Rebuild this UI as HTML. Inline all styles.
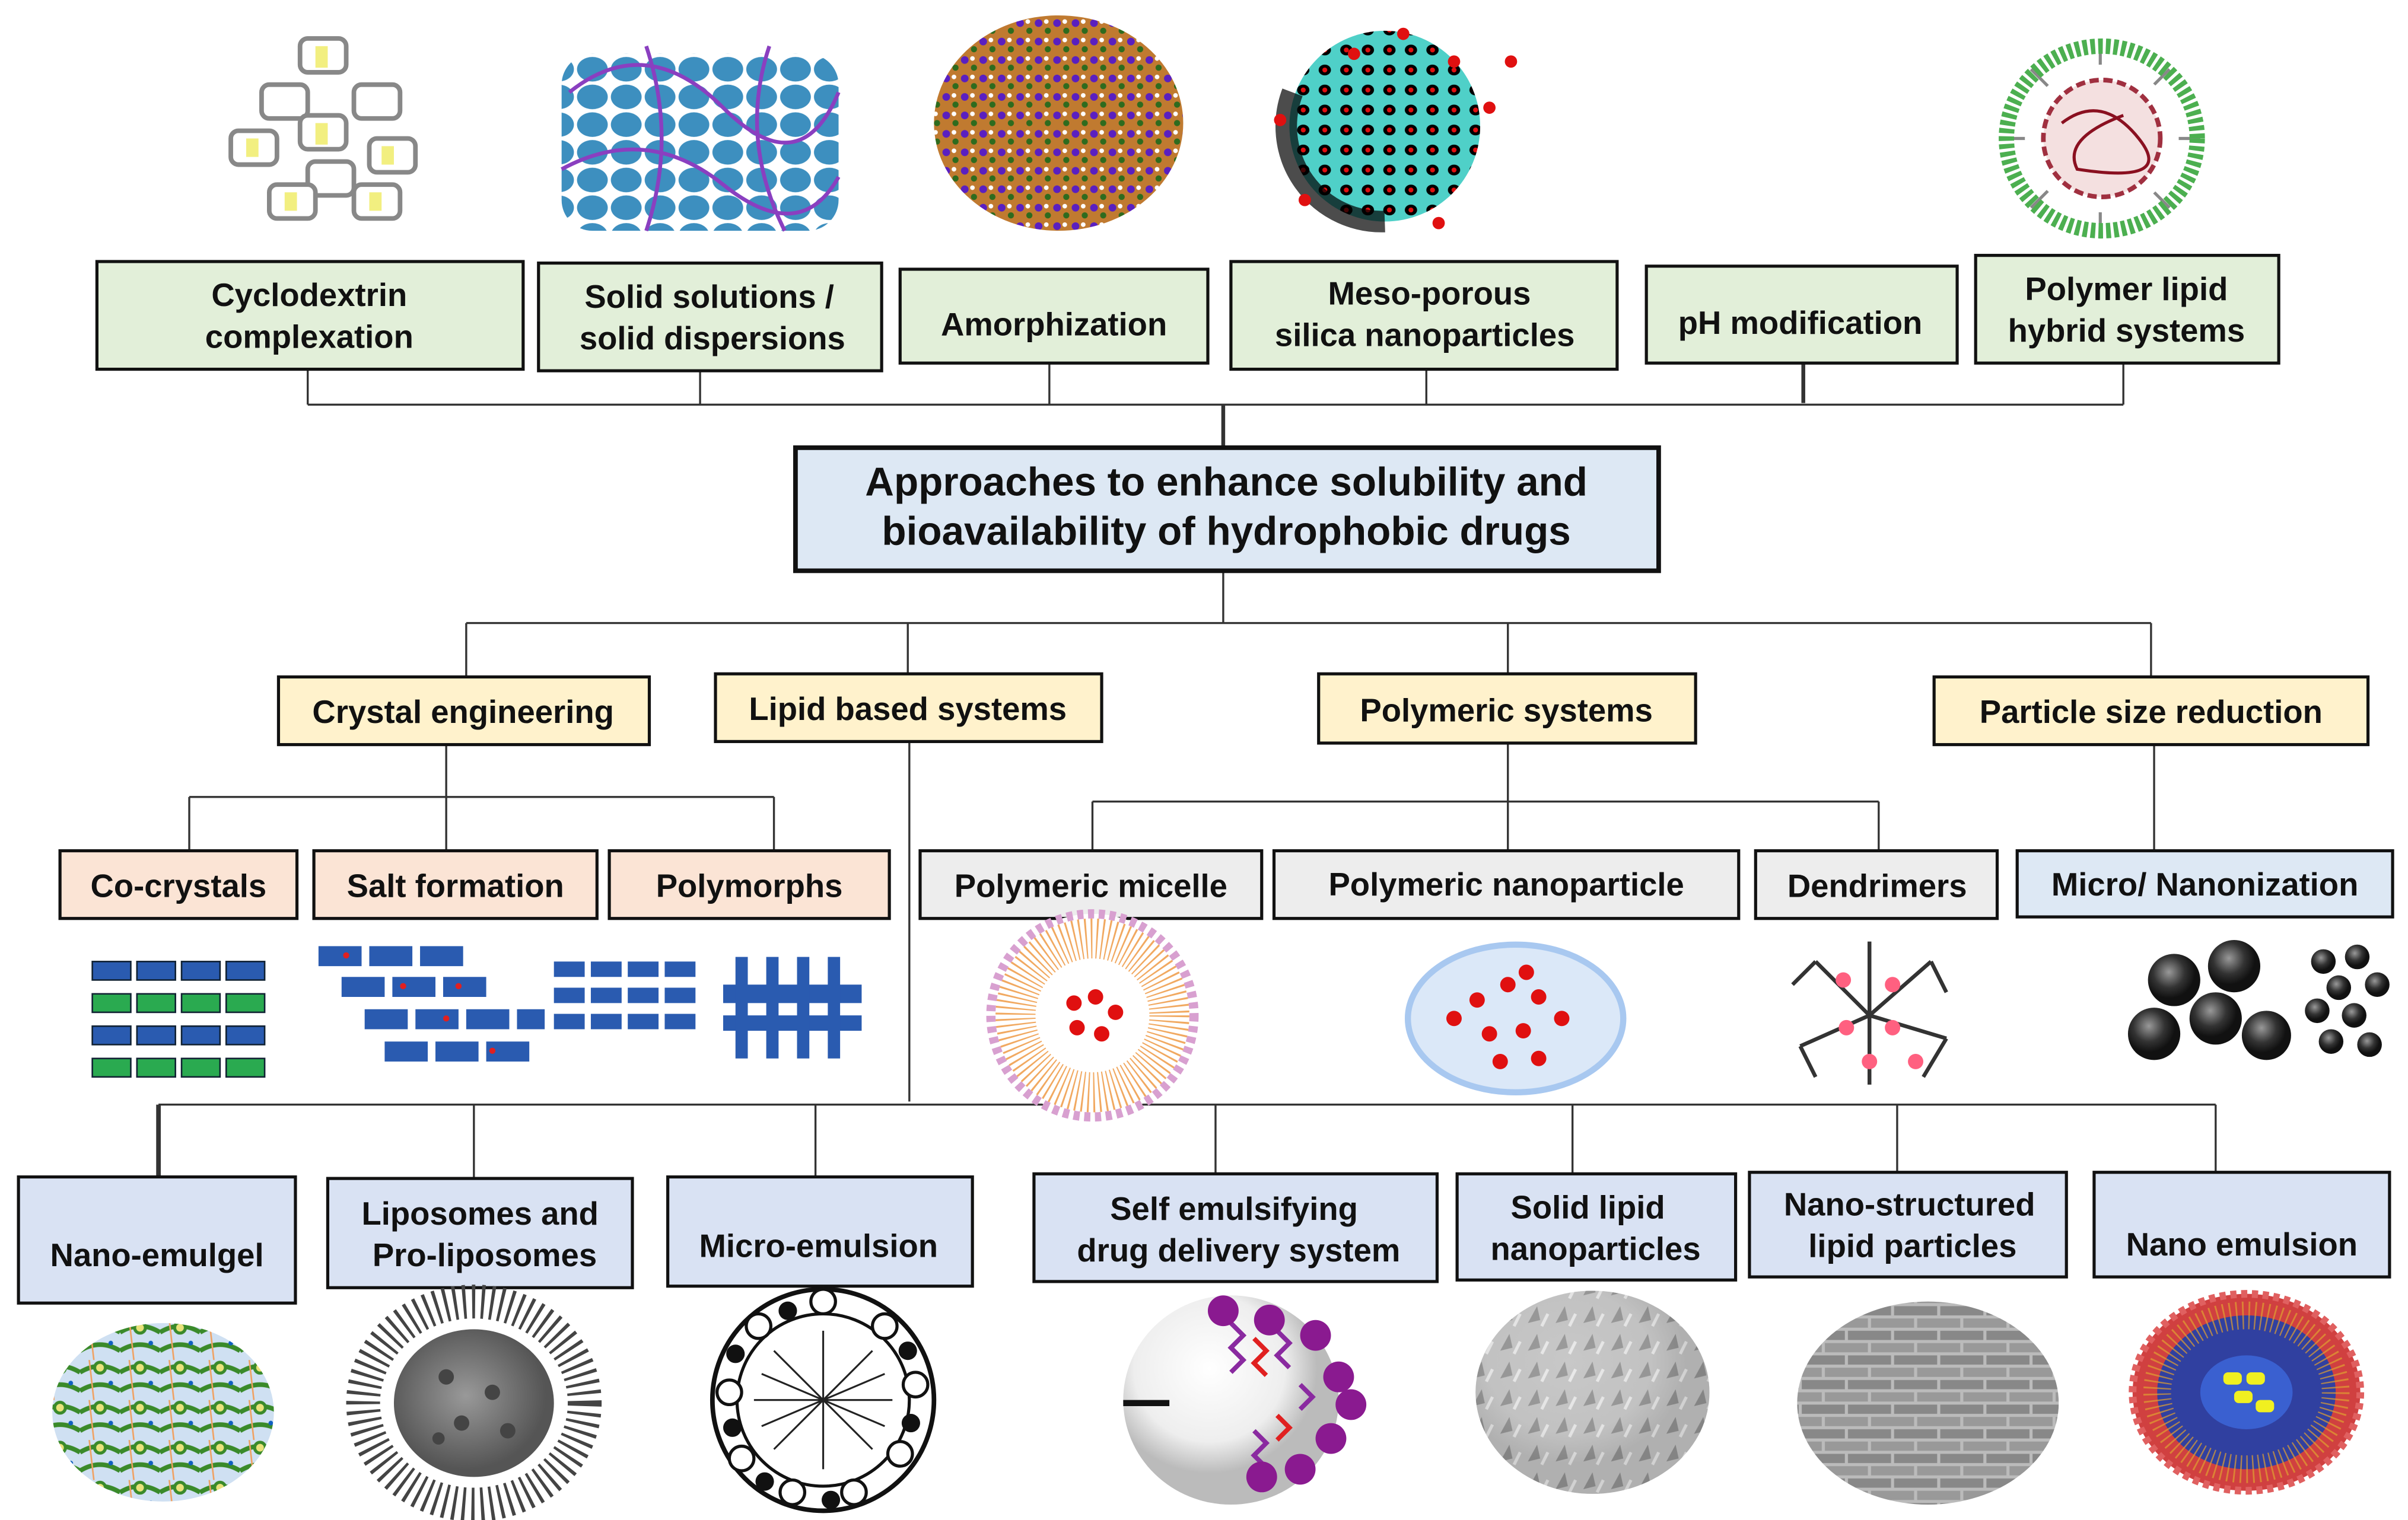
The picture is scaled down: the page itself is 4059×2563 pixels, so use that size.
<!DOCTYPE html>
<html><head><meta charset="utf-8"><style>
html,body{margin:0;padding:0;background:#fff;}
svg{display:block;}
text{font-family:"Liberation Sans",Arial,sans-serif;font-weight:bold;fill:#111;text-anchor:middle;}
</style></head><body>
<svg width="4059" height="2563" viewBox="0 0 1565 988" preserveAspectRatio="none" xmlns="http://www.w3.org/2000/svg">
<defs>
<pattern id="blue" width="22" height="18" patternUnits="userSpaceOnUse"><ellipse cx="11" cy="9" rx="10" ry="8" fill="#3d8fbf"/></pattern>
<pattern id="amor" width="12" height="12" patternUnits="userSpaceOnUse"><rect width="12" height="12" fill="#c07a30"/><circle cx="3" cy="3" r="2.5" fill="#5a1fc0"/><circle cx="9" cy="8" r="2" fill="#2e6b1e"/><circle cx="8" cy="2" r="1.5" fill="#fff"/></pattern>
<pattern id="meso" width="14" height="13" patternUnits="userSpaceOnUse"><rect width="14" height="13" fill="#4fd0c8"/><ellipse cx="7" cy="6.5" rx="4" ry="3.5" fill="#000"/><circle cx="7" cy="6.5" r="1.6" fill="#e01010"/></pattern>
<pattern id="gel" width="26" height="26" patternUnits="userSpaceOnUse"><rect width="26" height="26" fill="#cfe0f2"/><path d="M0 8 Q13 0 26 8 M0 20 Q13 12 26 20" stroke="#3a8a2a" stroke-width="3" fill="none"/><circle cx="13" cy="5" r="3.5" fill="#e9e27a" stroke="#3a8a2a" stroke-width="2"/><line x1="6" y1="0" x2="9" y2="26" stroke="#f0a060" stroke-width="1"/><circle cx="20" cy="15" r="1.5" fill="#1060c0"/></pattern>
<pattern id="brick" width="30" height="16" patternUnits="userSpaceOnUse"><rect width="30" height="16" fill="#bbb"/><rect x="1" y="1" width="28" height="6" fill="#888"/><rect x="-14" y="9" width="28" height="6" fill="#999"/><rect x="16" y="9" width="28" height="6" fill="#999"/></pattern>
<pattern id="slnp" width="18" height="18" patternUnits="userSpaceOnUse"><rect width="18" height="18" fill="#aaa"/><path d="M3 14 L9 3 L11 12Z" fill="#666"/><path d="M12 16 L16 8" stroke="#ddd" stroke-width="2"/></pattern>
<radialGradient id="gsphere" cx="40%" cy="35%"><stop offset="0" stop-color="#999"/><stop offset="0.6" stop-color="#333"/><stop offset="1" stop-color="#111"/></radialGradient>
<radialGradient id="white" cx="40%" cy="35%"><stop offset="0" stop-color="#fff"/><stop offset="0.7" stop-color="#eee"/><stop offset="1" stop-color="#bbb"/></radialGradient>
<radialGradient id="gray" cx="45%" cy="45%"><stop offset="0" stop-color="#999"/><stop offset="1" stop-color="#555"/></radialGradient>
</defs>

<g stroke="#888" stroke-width="3" fill="#fff">
<rect x="195" y="25" width="30" height="22" rx="5"/><rect x="170" y="55" width="30" height="22" rx="5"/><rect x="230" y="55" width="30" height="22" rx="5"/>
<rect x="195" y="75" width="30" height="22" rx="5"/><rect x="150" y="85" width="30" height="22" rx="5"/><rect x="240" y="90" width="30" height="22" rx="5"/>
<rect x="200" y="105" width="30" height="22" rx="5"/><rect x="175" y="120" width="30" height="22" rx="5"/><rect x="230" y="120" width="30" height="22" rx="5"/>
</g>
<g fill="#f2ef80"><rect x="205" y="30" width="8" height="14"/><rect x="205" y="80" width="8" height="14"/><rect x="160" y="90" width="8" height="12"/><rect x="248" y="95" width="8" height="12"/><rect x="185" y="125" width="8" height="12"/><rect x="240" y="125" width="8" height="12"/></g>
<rect x="365" y="35" width="180" height="115" rx="20" fill="url(#blue)"/>
<path d="M370 60 Q420 20 470 70 T545 60 M365 110 Q420 80 470 120 T545 115 M420 30 Q440 90 420 150 M500 30 Q480 90 510 150" stroke="#8a3fc0" stroke-width="2.5" fill="none"/>
<ellipse cx="688" cy="80" rx="81" ry="70" fill="url(#amor)"/>
<circle cx="900" cy="82" r="62" fill="url(#meso)"/>
<path d="M840 60 A62 62 0 0 0 900 144" stroke="#000" stroke-width="14" fill="none" opacity="0.7"/>
<g fill="#e01010"><circle cx="912" cy="22" r="4"/><circle cx="945" cy="40" r="4"/><circle cx="982" cy="40" r="4"/><circle cx="968" cy="70" r="4"/><circle cx="832" cy="78" r="4"/><circle cx="848" cy="130" r="4"/><circle cx="935" cy="145" r="4"/><circle cx="880" cy="35" r="4"/></g>
<g stroke="#888" stroke-width="2"><path d="M1365 28 V155 M1302 90 H1430 M1320 45 L1410 135 M1410 45 L1320 135"/></g>
<ellipse cx="1366" cy="90" rx="62" ry="60" fill="none" stroke="#4caf50" stroke-width="10" stroke-dasharray="3 2"/>
<ellipse cx="1366" cy="90" rx="50" ry="48" fill="#fff"/>
<ellipse cx="1366" cy="90" rx="38" ry="38" fill="#f4e0e0" stroke="#a03040" stroke-width="3" stroke-dasharray="6 3"/>
<path d="M1340 80 Q1366 60 1390 90 T1350 110 Q1340 90 1380 75" stroke="#8a1020" stroke-width="2" fill="none"/>

<g stroke="#333" stroke-width="1.3" fill="none">
<path d="M200 240 V263 M455 241 V263 M682 236 V263 M927 240 V263 M1380 236 V263 M200 263 H1380"/>
<path d="M1172 236 V262" stroke-width="2.5"/>
<path d="M795 263 V290" stroke-width="2.5"/>
<path d="M795 371 V405 M303 405 H1398 M303 405 V440 M590 405 V438 M980 405 V438 M1398 405 V440"/>
<path d="M290 484 V518 M123 518 H503 M123 518 V553 M290 518 V553 M503 518 V553"/>
<path d="M980 483 V521 M710 521 H1221 M710 521 V553 M980 521 V553 M1221 521 V553"/>
<path d="M1400 484 V553"/>
<path d="M591 482 V716 M103 718 H1440 M308 718 V766 M530 718 V765 M790 718 V763 M1022 718 V763 M1233 718 V762 M1440 718 V762"/>
<path d="M103 718 V765" stroke-width="3"/>
</g>

<g stroke="#111" stroke-width="2">
<g fill="#e2efd9">
<rect x="63" y="170" width="277" height="70"/><rect x="350" y="171" width="223" height="70"/><rect x="585" y="175" width="200" height="61"/>
<rect x="800" y="170" width="251" height="70"/><rect x="1070" y="173" width="202" height="63"/><rect x="1284" y="166" width="197" height="70"/>
</g>
<rect x="517" y="291" width="561" height="80" fill="#dde8f4" stroke-width="3"/>
<g fill="#fff2cc">
<rect x="181" y="440" width="241" height="44"/><rect x="465" y="438" width="251" height="44"/><rect x="857" y="438" width="245" height="45"/><rect x="1257" y="440" width="282" height="44"/>
</g>
<g fill="#fbe4d5"><rect x="39" y="553" width="154" height="44"/><rect x="204" y="553" width="184" height="44"/><rect x="396" y="553" width="182" height="44"/></g>
<g fill="#ededed"><rect x="598" y="553" width="222" height="44"/><rect x="828" y="553" width="302" height="44"/><rect x="1141" y="553" width="157" height="44"/></g>
<rect x="1311" y="553" width="244" height="43" fill="#dde8f4"/>
<g fill="#d9e2f3">
<rect x="12" y="765" width="180" height="82"/><rect x="213" y="766" width="198" height="71"/><rect x="434" y="765" width="198" height="71"/>
<rect x="672" y="763" width="262" height="70"/><rect x="947" y="763" width="181" height="69"/><rect x="1137" y="762" width="206" height="68"/><rect x="1361" y="762" width="192" height="68"/>
</g>
</g>

<g font-size="21">
<text x="201" y="199">Cyclodextrin</text><text x="201" y="226">complexation</text>
<text x="461" y="200">Solid solutions /</text><text x="463" y="227">solid dispersions</text>
<text x="685" y="218">Amorphization</text>
<text x="929" y="198">Meso-porous</text><text x="926" y="225">silica nanoparticles</text>
<text x="1170" y="217">pH modification</text>
<text x="1382" y="195">Polymer lipid</text><text x="1382" y="222">hybrid systems</text>
</g>
<g font-size="26"><text x="797" y="322">Approaches to enhance solubility  and</text><text x="797" y="354">bioavailability of hydrophobic  drugs</text></g>
<g font-size="21">
<text x="301" y="470">Crystal engineering</text><text x="590" y="468">Lipid based systems</text><text x="979" y="469">Polymeric  systems</text><text x="1398" y="470">Particle size reduction</text>
<text x="116" y="583">Co-crystals</text><text x="296" y="583">Salt formation</text><text x="487" y="583">Polymorphs</text>
<text x="709" y="583">Polymeric micelle</text><text x="979" y="582">Polymeric nanoparticle</text><text x="1220" y="583">Dendrimers</text><text x="1433" y="582">Micro/ Nanonization</text>
<text x="102" y="823">Nano-emulgel</text>
<text x="312" y="796">Liposomes and</text><text x="315" y="823">Pro-liposomes</text>
<text x="532" y="817">Micro-emulsion</text>
<text x="802" y="793">Self emulsifying</text><text x="805" y="820">drug delivery system</text>
<text x="1032" y="792">Solid lipid</text><text x="1037" y="819">nanoparticles</text>
<text x="1241" y="790">Nano-structured</text><text x="1243" y="817">lipid particles</text>
<text x="1457" y="816">Nano emulsion</text>
</g>

<g>
<g fill="#2a5bb0" stroke="#123" stroke-width="1"><rect x="60" y="625" width="25" height="12"/><rect x="89" y="625" width="25" height="12"/><rect x="118" y="625" width="25" height="12"/><rect x="147" y="625" width="25" height="12"/>
<rect x="60" y="667" width="25" height="12"/><rect x="89" y="667" width="25" height="12"/><rect x="118" y="667" width="25" height="12"/><rect x="147" y="667" width="25" height="12"/></g>
<g fill="#2aaa50" stroke="#123" stroke-width="1"><rect x="60" y="646" width="25" height="12"/><rect x="89" y="646" width="25" height="12"/><rect x="118" y="646" width="25" height="12"/><rect x="147" y="646" width="25" height="12"/>
<rect x="60" y="688" width="25" height="12"/><rect x="89" y="688" width="25" height="12"/><rect x="118" y="688" width="25" height="12"/><rect x="147" y="688" width="25" height="12"/></g>
<g fill="#2a5bb0"><rect x="207" y="615" width="28" height="13"/><rect x="240" y="615" width="28" height="13"/><rect x="273" y="615" width="28" height="13"/>
<rect x="222" y="635" width="28" height="13"/><rect x="255" y="635" width="28" height="13"/><rect x="288" y="635" width="28" height="13"/>
<rect x="237" y="656" width="28" height="13"/><rect x="270" y="656" width="28" height="13"/><rect x="303" y="656" width="28" height="13"/><rect x="336" y="656" width="18" height="13"/>
<rect x="250" y="677" width="28" height="13"/><rect x="283" y="677" width="28" height="13"/><rect x="316" y="677" width="28" height="13"/>
<rect x="360" y="625" width="20" height="10"/><rect x="384" y="625" width="20" height="10"/><rect x="408" y="625" width="20" height="10"/><rect x="432" y="625" width="20" height="10"/>
<rect x="360" y="642" width="20" height="10"/><rect x="384" y="642" width="20" height="10"/><rect x="408" y="642" width="20" height="10"/><rect x="432" y="642" width="20" height="10"/>
<rect x="360" y="659" width="20" height="10"/><rect x="384" y="659" width="20" height="10"/><rect x="408" y="659" width="20" height="10"/><rect x="432" y="659" width="20" height="10"/>
<rect x="470" y="640" width="90" height="12"/><rect x="470" y="660" width="90" height="10"/>
<rect x="478" y="622" width="8" height="66"/><rect x="498" y="622" width="8" height="66"/><rect x="518" y="622" width="8" height="66"/><rect x="538" y="622" width="8" height="66"/></g>
<g fill="#e02020"><circle cx="225" cy="621" r="2"/><circle cx="262" cy="641" r="2"/><circle cx="298" cy="641" r="2"/><circle cx="290" cy="662" r="2"/><circle cx="320" cy="683" r="2"/></g>
<circle cx="710" cy="660" r="66" fill="#fff" stroke="#d8a0d0" stroke-width="6" stroke-dasharray="4 3"/>
<circle cx="710" cy="660" r="50" fill="none" stroke="#f0a050" stroke-width="26" stroke-dasharray="1 2.5" opacity="0.9"/>
<circle cx="710" cy="660" r="30" fill="#fff"/>
<g fill="#e01010"><circle cx="698" cy="652" r="5"/><circle cx="712" cy="648" r="5"/><circle cx="725" cy="658" r="5"/><circle cx="700" cy="668" r="5"/><circle cx="716" cy="672" r="5"/></g>
<ellipse cx="985" cy="662" rx="70" ry="48" fill="#dbe8f8" stroke="#a8c8f0" stroke-width="4"/>
<g fill="#e01010"><circle cx="960" cy="650" r="5"/><circle cx="980" cy="640" r="5"/><circle cx="1000" cy="648" r="5"/><circle cx="1015" cy="662" r="5"/><circle cx="990" cy="670" r="5"/><circle cx="968" cy="672" r="5"/><circle cx="945" cy="662" r="5"/><circle cx="1000" cy="688" r="5"/><circle cx="975" cy="690" r="5"/><circle cx="992" cy="632" r="5"/></g>
<g stroke="#333" stroke-width="2.5" fill="none"><path d="M1215 660 L1180 625 M1215 660 L1255 625 M1215 660 L1170 680 M1215 660 L1265 675 M1215 660 L1215 705 M1215 660 L1215 612 M1180 625 L1165 640 M1255 625 L1265 645 M1170 680 L1180 700 M1265 675 L1250 700"/></g>
<g fill="#ff6080"><circle cx="1198" cy="637" r="5"/><circle cx="1230" cy="640" r="5"/><circle cx="1200" cy="668" r="5"/><circle cx="1230" cy="668" r="5"/><circle cx="1215" cy="690" r="5"/><circle cx="1245" cy="690" r="5"/></g>
<g fill="url(#gsphere)"><circle cx="1413" cy="637" r="17"/><circle cx="1452" cy="628" r="17"/><circle cx="1440" cy="662" r="17"/><circle cx="1400" cy="672" r="17"/><circle cx="1473" cy="673" r="16"/>
<circle cx="1510" cy="625" r="8"/><circle cx="1532" cy="622" r="8"/><circle cx="1520" cy="642" r="8"/><circle cx="1545" cy="640" r="8"/><circle cx="1506" cy="657" r="8"/><circle cx="1530" cy="660" r="8"/><circle cx="1515" cy="677" r="8"/><circle cx="1540" cy="679" r="8"/></g>
</g>

<ellipse cx="106" cy="918" rx="72" ry="58" fill="url(#gel)"/>
<ellipse cx="308" cy="912" rx="72" ry="66" fill="none" stroke="#444" stroke-width="22" stroke-dasharray="2 4"/>
<ellipse cx="308" cy="912" rx="52" ry="48" fill="url(#gray)"/>
<g fill="#444"><circle cx="290" cy="895" r="5"/><circle cx="320" cy="905" r="5"/><circle cx="300" cy="925" r="5"/><circle cx="330" cy="930" r="5"/><circle cx="285" cy="935" r="4"/></g>
<circle cx="535" cy="910" r="72" fill="#fff" stroke="#111" stroke-width="3"/>
<circle cx="535" cy="910" r="56" fill="none" stroke="#111" stroke-width="2"/>
<g fill="#fff" stroke="#111" stroke-width="2"><circle cx="535" cy="846" r="8"/><circle cx="575" cy="862" r="8"/><circle cx="595" cy="900" r="8"/><circle cx="585" cy="945" r="8"/><circle cx="555" cy="970" r="8"/><circle cx="515" cy="970" r="8"/><circle cx="482" cy="948" r="8"/><circle cx="474" cy="905" r="8"/><circle cx="493" cy="862" r="8"/></g>
<g fill="#111"><circle cx="512" cy="852" r="6"/><circle cx="590" cy="878" r="6"/><circle cx="592" cy="925" r="6"/><circle cx="540" cy="975" r="6"/><circle cx="497" cy="963" r="6"/><circle cx="476" cy="928" r="6"/><circle cx="478" cy="880" r="6"/></g>
<g stroke="#222" stroke-width="1.2"><path d="M490 910 H580 M535 865 V955 M503 878 L567 942 M567 878 L503 942 M495 893 L575 927 M495 927 L575 893"/></g>
<ellipse cx="800" cy="910" rx="70" ry="68" fill="url(#white)"/>
<path d="M730 912 L760 912" stroke="#111" stroke-width="4"/>
<g stroke-width="3" fill="none"><path d="M800 860 l8 8 l-8 8 l8 8 l-8 8 M830 865 l8 8 l-8 8 l8 8 M815 930 l8 8 l-8 8 l8 8 M845 900 l8 8 l-8 8" stroke="#8a2aa0"/><path d="M815 870 l8 8 l-8 8 l8 8 M830 920 l8 8 l-8 8" stroke="#e02020"/></g>
<g fill="#8a1a90"><circle cx="795" cy="852" r="10"/><circle cx="825" cy="858" r="10"/><circle cx="855" cy="868" r="10"/><circle cx="870" cy="895" r="10"/><circle cx="878" cy="913" r="10"/><circle cx="865" cy="935" r="10"/><circle cx="845" cy="955" r="10"/><circle cx="820" cy="960" r="10"/></g>
<ellipse cx="1035" cy="905" rx="76" ry="66" fill="url(#slnp)"/>
<ellipse cx="1035" cy="905" rx="76" ry="66" fill="url(#white)" opacity="0.35"/>
<ellipse cx="1253" cy="912" rx="85" ry="66" fill="url(#brick)"/>
<ellipse cx="1460" cy="905" rx="74" ry="64" fill="#d04040" stroke="#e06060" stroke-width="5" stroke-dasharray="4 3"/>
<ellipse cx="1460" cy="905" rx="58" ry="50" fill="#3040a0"/>
<ellipse cx="1460" cy="905" rx="58" ry="50" fill="none" stroke="#e0a030" stroke-width="18" stroke-dasharray="1 3" opacity="0.7"/>
<ellipse cx="1460" cy="905" rx="30" ry="24" fill="#3a60d0"/>
<g fill="#f0f020"><rect x="1445" y="892" width="12" height="8" rx="3"/><rect x="1460" y="892" width="12" height="8" rx="3"/><rect x="1452" y="904" width="12" height="8" rx="3"/><rect x="1466" y="910" width="12" height="8" rx="3"/></g>
</svg>
</body></html>
